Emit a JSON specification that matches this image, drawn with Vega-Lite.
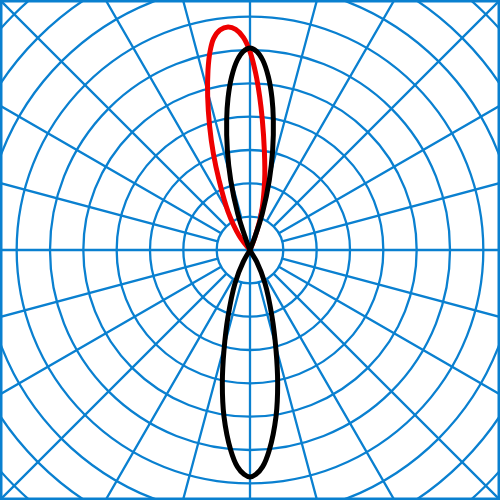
{
  "$schema": "https://vega.github.io/schema/vega-lite/v6.json",
  "description": "Polar radiation pattern, two lobes over a polar grid",
  "width": 500,
  "height": 500,
  "padding": 0,
  "autosize": {"type": "none"},
  "config": {"view": {"stroke": "#0a80d0", "strokeWidth": 5}},
  "datasets": {
    "circles": [
      {"r": 1}, {"r": 2}, {"r": 3}, {"r": 4}, {"r": 5},
      {"r": 6}, {"r": 7}, {"r": 8}, {"r": 9}, {"r": 10}
    ],
    "spokes": [
      {"a": 0, "r0": 0, "r1": 12}, {"a": 15, "r0": 1, "r1": 12}, {"a": 30, "r0": 1, "r1": 12},
      {"a": 45, "r0": 1, "r1": 12}, {"a": 60, "r0": 1, "r1": 12}, {"a": 75, "r0": 1, "r1": 12},
      {"a": 90, "r0": 0, "r1": 12}, {"a": 105, "r0": 1, "r1": 12}, {"a": 120, "r0": 1, "r1": 12},
      {"a": 135, "r0": 1, "r1": 12}, {"a": 150, "r0": 1, "r1": 12}, {"a": 165, "r0": 1, "r1": 12},
      {"a": 180, "r0": 0, "r1": 12}, {"a": 195, "r0": 1, "r1": 12}, {"a": 210, "r0": 1, "r1": 12},
      {"a": 225, "r0": 1, "r1": 12}, {"a": 240, "r0": 1, "r1": 12}, {"a": 255, "r0": 1, "r1": 12},
      {"a": 270, "r0": 0, "r1": 12}, {"a": 285, "r0": 1, "r1": 12}, {"a": 300, "r0": 1, "r1": 12},
      {"a": 315, "r0": 1, "r1": 12}, {"a": 330, "r0": 1, "r1": 12}, {"a": 345, "r0": 1, "r1": 12}
    ],
    "red": [
      {"i": 0, "x": 0, "y": 0},
      {"i": 1, "x": 0.15, "y": 0.4},
      {"i": 2, "x": 0.34, "y": 1.1},
      {"i": 3, "x": 0.44, "y": 2.1},
      {"i": 4, "x": 0.43, "y": 3.0},
      {"i": 5, "x": 0.37, "y": 3.9},
      {"i": 6, "x": 0.29, "y": 4.6},
      {"i": 7, "x": 0.17, "y": 5.3},
      {"i": 8, "x": 0, "y": 5.95},
      {"i": 9, "x": -0.2, "y": 6.38},
      {"i": 10, "x": -0.43, "y": 6.62},
      {"i": 11, "x": -0.66, "y": 6.69},
      {"i": 12, "x": -0.9, "y": 6.6},
      {"i": 13, "x": -1.09, "y": 6.35},
      {"i": 14, "x": -1.2, "y": 5.95},
      {"i": 15, "x": -1.26, "y": 5.4},
      {"i": 16, "x": -1.27, "y": 4.6},
      {"i": 17, "x": -1.21, "y": 3.7},
      {"i": 18, "x": -1.1, "y": 2.9},
      {"i": 19, "x": -0.93, "y": 2.1},
      {"i": 20, "x": -0.66, "y": 1.15},
      {"i": 21, "x": -0.32, "y": 0.42},
      {"i": 22, "x": 0, "y": 0}
    ],
    "black": [
      {"i": 0, "x": 0, "y": 0},
      {"i": 1, "x": 0.15, "y": 0.4},
      {"i": 2, "x": 0.37, "y": 1.1},
      {"i": 3, "x": 0.58, "y": 2.1},
      {"i": 4, "x": 0.68, "y": 3.0},
      {"i": 5, "x": 0.7, "y": 3.9},
      {"i": 6, "x": 0.66, "y": 4.55},
      {"i": 7, "x": 0.55, "y": 5.2},
      {"i": 8, "x": 0.38, "y": 5.7},
      {"i": 9, "x": 0.2, "y": 5.96},
      {"i": 10, "x": 0, "y": 6.06},
      {"i": 11, "x": -0.2, "y": 5.96},
      {"i": 12, "x": -0.38, "y": 5.7},
      {"i": 13, "x": -0.55, "y": 5.2},
      {"i": 14, "x": -0.66, "y": 4.55},
      {"i": 15, "x": -0.7, "y": 3.9},
      {"i": 16, "x": -0.68, "y": 3.0},
      {"i": 17, "x": -0.58, "y": 2.1},
      {"i": 18, "x": -0.37, "y": 1.1},
      {"i": 19, "x": -0.15, "y": 0.4},
      {"i": 20, "x": 0, "y": 0},
      {"i": 21, "x": 0.2, "y": -0.35},
      {"i": 22, "x": 0.45, "y": -1.0},
      {"i": 23, "x": 0.66, "y": -2.0},
      {"i": 24, "x": 0.78, "y": -3.0},
      {"i": 25, "x": 0.83, "y": -4.0},
      {"i": 26, "x": 0.78, "y": -5.0},
      {"i": 27, "x": 0.58, "y": -6.0},
      {"i": 28, "x": 0.38, "y": -6.5},
      {"i": 29, "x": 0.18, "y": -6.73},
      {"i": 30, "x": 0, "y": -6.81},
      {"i": 31, "x": -0.18, "y": -6.73},
      {"i": 32, "x": -0.38, "y": -6.5},
      {"i": 33, "x": -0.58, "y": -6.0},
      {"i": 34, "x": -0.78, "y": -5.0},
      {"i": 35, "x": -0.83, "y": -4.0},
      {"i": 36, "x": -0.78, "y": -3.0},
      {"i": 37, "x": -0.66, "y": -2.0},
      {"i": 38, "x": -0.45, "y": -1.0},
      {"i": 39, "x": -0.2, "y": -0.35},
      {"i": 40, "x": 0, "y": 0}
    ]
  },
  "layer": [
    {
      "data": {"name": "circles"},
      "mark": {"type": "arc", "theta": 0, "theta2": 6.2832, "fill": null, "stroke": "#0a80d0", "strokeWidth": 2.3, "clip": true},
      "encoding": {
        "radius": {"field": "r", "type": "quantitative", "stack": false, "scale": {"type": "linear", "domain": [0, 7.5], "range": [0, 250], "zero": true}}
      }
    },
    {
      "data": {"name": "spokes"},
      "mark": {"type": "arc", "fill": null, "stroke": "#0a80d0", "strokeWidth": 2.3, "clip": true},
      "encoding": {
        "theta": {"field": "a", "type": "quantitative", "stack": false, "scale": {"domain": [0, 360], "range": [0, 6.283185307179586]}},
        "theta2": {"field": "a"},
        "radius": {"field": "r0", "type": "quantitative", "stack": false},
        "radius2": {"field": "r1"}
      }
    },
    {
      "data": {"name": "red"},
      "mark": {"type": "line", "color": "#ee0000", "strokeWidth": 5, "interpolate": "catmull-rom", "clip": true},
      "encoding": {
        "x": {"field": "x", "type": "quantitative", "scale": {"domain": [-7.5, 7.5], "nice": false, "zero": false}, "axis": null},
        "y": {"field": "y", "type": "quantitative", "scale": {"domain": [-7.5, 7.5], "nice": false, "zero": false}, "axis": null},
        "order": {"field": "i"}
      }
    },
    {
      "data": {"name": "black"},
      "mark": {"type": "line", "color": "#000000", "strokeWidth": 5, "interpolate": "catmull-rom", "clip": true},
      "encoding": {
        "x": {"field": "x", "type": "quantitative"},
        "y": {"field": "y", "type": "quantitative"},
        "order": {"field": "i"}
      }
    }
  ]
}
